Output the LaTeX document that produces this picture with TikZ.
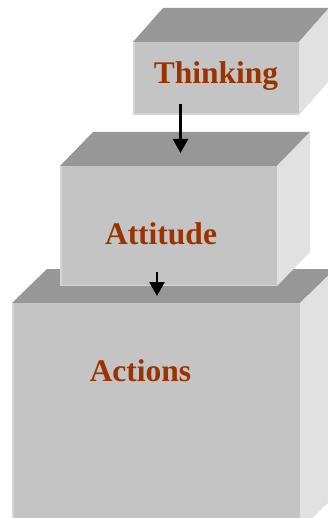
\documentclass[tikz,border=0pt]{standalone}
\usepackage{fontspec}
\setmainfont{Liberation Serif}
\usetikzlibrary{arrows.meta}
\definecolor{topc}{HTML}{979797}
\definecolor{frontc}{HTML}{C4C4C4}
\definecolor{sidec}{HTML}{E1E1E1}
\definecolor{edgec}{HTML}{D4D4D4}
\definecolor{txtc}{HTML}{993300}
% #1 left, #2 top, #3 right, #4 bottom, #5 depth dx, #6 depth dy
\newcommand\myblock[6]{%
  \fill[topc] (#1,#2) -- ({#1+#5},{#2-#6}) -- ({#3+#5},{#2-#6}) -- (#3,#2) -- cycle;
  \fill[sidec] (#3,#2) -- ({#3+#5},{#2-#6}) -- ({#3+#5},{#4-#6}) -- (#3,#4) -- cycle;
  \fill[frontc] (#1,#2) rectangle (#3,#4);
  \draw[edgec,line width=1.5pt] ({#1+0.75},#2) -- ({#1+0.75},{#4-0.75}) -- (#3,{#4-0.75});
}
\begin{document}
\begin{tikzpicture}[x=1pt,y=-1pt,
  lbl/.style={text=txtc,font=\fontsize{31.5}{36}\selectfont\bfseries,inner sep=0pt,anchor=base},
  arr/.style={line width=2.6pt,-{Triangle[width=15pt,length=14pt]}}]
\useasboundingbox (0,0) rectangle (328,518);
\clip (0,0) rectangle (328,518);
\fill[white] (0,0) rectangle (328,518);
\myblock{12}{303}{300}{530}{35}{34}
\myblock{60}{166}{277}{286}{33}{34}
\myblock{133}{42}{299}{115}{30}{34}
\node[lbl] (thinking) at (216,83.5) {Thinking};
\node[lbl] (attitude) at (161,244) {Attitude};
\node[lbl] (actions) at (140.5,381) {Actions};
\coordinate (a1s) at (180.5,104);
\coordinate (a1e) at (180.5,153);
\coordinate (a2s) at (157,272);
\coordinate (a2e) at (157,296);
\draw[arr] (a1s) -- (a1e);
\draw[arr] (a2s) -- (a2e);
\end{tikzpicture}
\end{document}
